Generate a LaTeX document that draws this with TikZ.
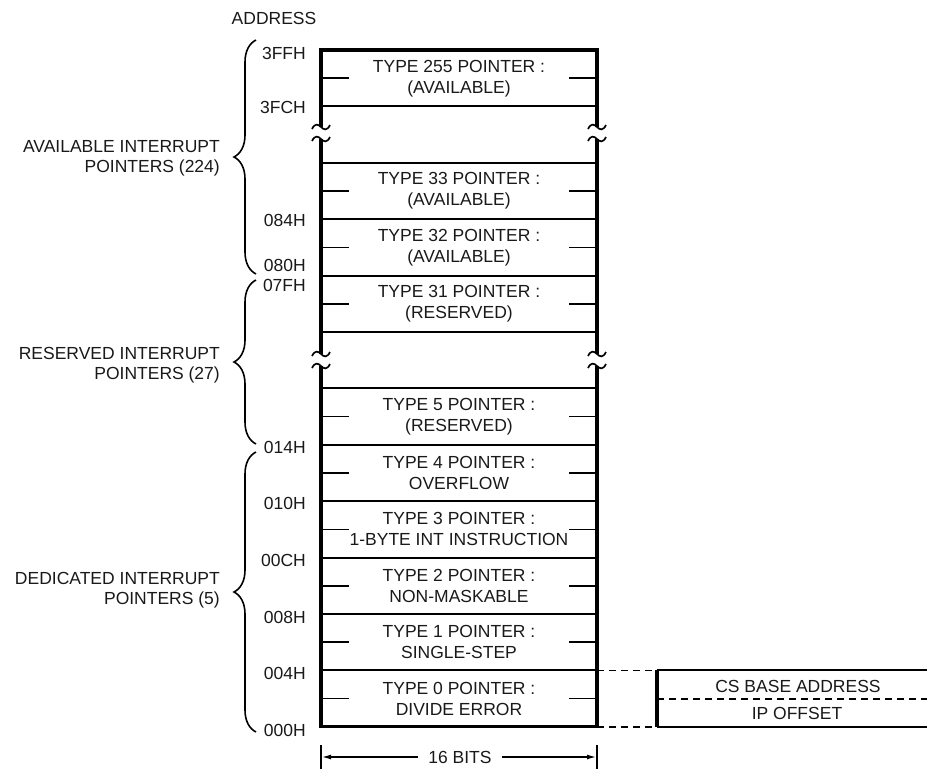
\documentclass[tikz,border=0pt]{standalone}
\usepackage{fontspec}
\setmainfont{Liberation Sans}
\usetikzlibrary{arrows.meta,decorations.pathreplacing}
\begin{document}
\begin{tikzpicture}[x=1pt,y=-1pt,
  txt/.style={font=\fontsize{17.5}{21}\selectfont, inner sep=0pt, align=center, text=black!90},
  addr/.style={font=\fontsize{17.5}{21}\selectfont, inner sep=0pt, anchor=east, text=black!90},
  grp/.style={font=\fontsize{17.5}{20}\selectfont, inner sep=0pt, anchor=east, align=right, text=black!90},
  edgeline/.style={line width=3.2pt},
  hline/.style={line width=1.9pt},
  tickline/.style={line width=1.5pt},
  brk/.style={line width=1.7pt},
  brc/.style={line width=1.6pt, decorate, decoration={brace, amplitude=22pt}},
  dsh/.style={line width=1.5pt, dash pattern=on 7pt off 5pt},
  arr/.style={line width=1.3pt, -{Latex[length=9pt,width=5pt]}},
]
\useasboundingbox (0,0) rectangle (927,769);

% outer frame (broken at the two gaps)
\draw[edgeline] (321,127) -- (321,50) -- (597,50) -- (597,127);
\draw[edgeline] (321,139) -- (321,354);
\draw[edgeline] (597,139) -- (597,354);
\draw[edgeline] (321,366) -- (321,726.8) -- (597,726.8) -- (597,366);

% break marks
\foreach \x in {321,597}{
  \foreach \y in {127,139,354,366}{
    \draw[brk] (\x-9,\y+2) .. controls (\x-6,\y-4) and (\x-3,\y-3) .. (\x,\y)
               .. controls (\x+3,\y+3) and (\x+6,\y+4) .. (\x+9,\y-2);
  }
}

% row separators
\foreach \y in {106.4,162.8,219.2,275.6,332,388.4,444.8,501.2,557.6,614,670.4}{
  \draw[hline] (321,\y) -- (597,\y);
}

% half-word ticks
\foreach \y in {78.2,191,247.4,303.8,416.6,473,529.4,585.8,642.2,698.6}{
  \draw[tickline] (321,\y) -- (349,\y);
  \draw[tickline] (569,\y) -- (597,\y);
}

% row texts
\node[txt] (r0) at (459,78.2) {TYPE 255 POINTER :\\(AVAILABLE)};
\node[txt] (r2) at (459,191) {TYPE 33 POINTER :\\(AVAILABLE)};
\node[txt] (r3) at (459,247.4) {TYPE 32 POINTER :\\(AVAILABLE)};
\node[txt] (r4) at (459,303.8) {TYPE 31 POINTER :\\(RESERVED)};
\node[txt] (r6) at (459,416.6) {TYPE 5 POINTER :\\(RESERVED)};
\node[txt] (r7) at (459,473) {TYPE 4 POINTER :\\OVERFLOW};
\node[txt] (r8) at (459,529.4) {TYPE 3 POINTER :\\1-BYTE INT INSTRUCTION};
\node[txt] (r9) at (459,585.8) {TYPE 2 POINTER :\\NON-MASKABLE};
\node[txt] (r10) at (459,642.2) {TYPE 1 POINTER :\\SINGLE-STEP};
\node[txt] (r11) at (459,698.6) {TYPE 0 POINTER :\\DIVIDE ERROR};

% address labels
\node[txt] (hdr) at (274,18) {ADDRESS};
\node[addr] (a3ff) at (306,53) {3FFH};
\node[addr] (a3fc) at (306,107) {3FCH};
\node[addr] (a084) at (306,220) {084H};
\node[addr] (a080) at (306,265) {080H};
\node[addr] (a07f) at (306,285) {07FH};
\node[addr] (a014) at (306,447) {014H};
\node[addr] (a010) at (306,503) {010H};
\node[addr] (a00c) at (306,560) {00CH};
\node[addr] (a008) at (306,617) {008H};
\node[addr] (a004) at (306,673) {004H};
\node[addr] (a000) at (306,730) {000H};

% braces
\draw[brc] (256,274) -- (256,40);
\draw[brc] (256,444) -- (256,280);
\draw[brc] (256,732) -- (256,452);

\node[grp] (g1) at (220,158) {AVAILABLE INTERRUPT\\POINTERS (224)};
\node[grp] (g2) at (220,365) {RESERVED INTERRUPT\\POINTERS (27)};
\node[grp] (g3) at (220,590) {DEDICATED INTERRUPT\\POINTERS (5)};

% 16 bits dimension
\draw[tickline] (321,745) -- (321,769);
\draw[tickline] (597,745) -- (597,769);
\coordinate (dl) at (322,757);
\coordinate (dr) at (596,757);
\node[txt] (bits) at (460,757) {16 BITS};
\draw[arr] ([xshift=-10pt]bits.west) -- (dl);
\draw[arr] ([xshift=10pt]bits.east) -- (dr);

% expanded vector box
\draw[dsh] (597,670.4) -- (657,670.4);
\draw[dsh] (597,726.8) -- (657,726.8);
\draw[hline] (927,670.4) -- (657,670.4);
\draw[hline] (927,726.8) -- (657,726.8);
\draw[edgeline] (657,670.4) -- (657,726.8);
\draw[dsh] (657,699) -- (927,699);
\node[txt] (cs) at (798,686) {CS BASE ADDRESS};
\node[txt] (ip) at (797,713) {IP OFFSET};
\end{tikzpicture}
\end{document}
